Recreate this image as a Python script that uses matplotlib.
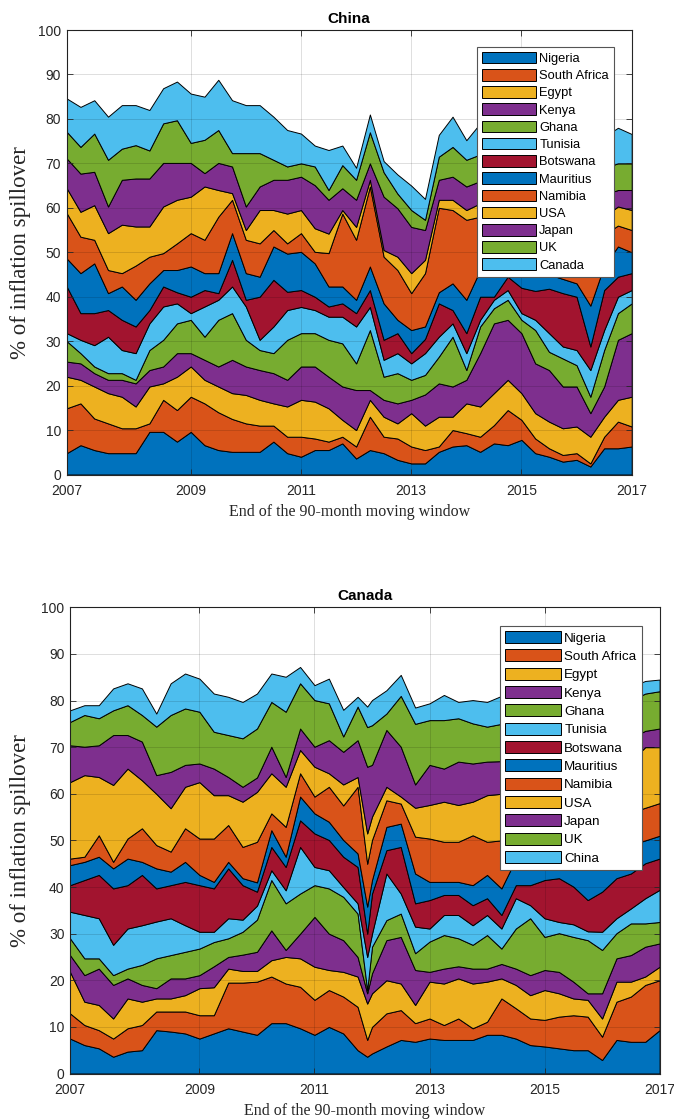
import numpy as np
import matplotlib
matplotlib.use("Agg")
import matplotlib.pyplot as plt

plt.rcParams['font.family'] = ['Liberation Sans', 'DejaVu Sans']

# ---------------- data ----------------
# months since the start of the axis (axis spans 123 months, labels every 2 years)
months_china = np.arange(0, 124, 3)
months_canada = np.array([0, 3, 6, 9, 12, 15, 18, 21, 24, 27, 30, 33, 36, 39, 42, 45, 48, 51, 54, 57, 60,
                          62, 63, 66, 69, 72, 75, 78, 81, 84, 87, 90, 93, 96, 99, 102, 105, 108, 111,
                          114, 117, 120, 123])
year_ticks = [0, 27, 51, 75, 99, 123]
year_labels = ['2007', '2009', '2011', '2013', '2015', '2017']

labels_china = ['Nigeria', 'South Africa', 'Egypt', 'Kenya', 'Ghana', 'Tunisia', 'Botswana',
                'Mauritius', 'Namibia', 'USA', 'Japan', 'UK', 'Canada']
labels_canada = ['Nigeria', 'South Africa', 'Egypt', 'Kenya', 'Ghana', 'Tunisia', 'Botswana',
                 'Mauritius', 'Namibia', 'USA', 'Japan', 'UK', 'China']

# ----- China panel (% contributions) -----
ch_nigeria = [4.8, 6.6, 5.5, 4.8, 4.8, 4.8, 9.6, 9.6, 7.4, 9.6, 6.6, 5.5, 5.1, 5.1, 5.1, 7.4, 4.8, 4.0, 5.5, 5.5,
              7.0, 3.6, 5.5, 4.8, 3.3, 2.5, 2.5, 5.1, 6.3, 6.6, 5.1, 7.0, 6.6, 7.8, 4.8, 4.0, 2.9, 3.3, 1.8, 5.9,
              5.9, 6.3]
ch_safrica = [10.1, 9.4, 7.1, 6.7, 5.6, 5.6, 1.9, 7.2, 7.1, 7.9, 9.4, 8.5, 7.4, 6.4, 5.9, 3.6, 3.7, 4.5, 2.6, 1.9,
              1.5, 2.7, 7.5, 3.7, 4.8, 3.8, 3.0, 1.2, 3.7, 2.7, 3.4, 4.1, 7.9, 4.5, 3.3, 1.9, 1.5, 1.5, 0.7, 2.6,
              6.0, 4.5]
ch_egypt = [7.1, 5.3, 7.2, 6.8, 7.1, 4.9, 8.3, 3.7, 7.5, 6.8, 5.3, 5.8, 5.8, 6.4, 5.8, 5.0, 6.8, 8.3, 8.3, 7.5,
            3.8, 3.7, 3.8, 4.5, 3.4, 7.5, 5.5, 6.7, 3.0, 6.7, 6.8, 7.2, 6.8, 6.0, 5.7, 6.0, 6.0, 6.0, 6.0, 4.5,
            4.9, 6.7]
ch_kenya = [3.4, 3.7, 3.0, 3.0, 3.8, 5.2, 3.7, 3.8, 5.3, 3.0, 4.5, 4.5, 7.5, 6.4, 6.7, 6.8, 6.0, 7.5, 7.9, 7.1,
            7.5, 9.0, 2.2, 3.8, 4.5, 3.0, 7.0, 7.5, 6.8, 5.3, 12.0, 15.7, 13.5, 13.5, 11.2, 11.6, 9.4, 9.0, 5.3,
            6.8, 13.5, 14.3]
ch_ghana = [4.6, 2.3, 1.5, 1.5, 1.5, 0.8, 4.5, 6.0, 6.7, 7.5, 5.2, 10.5, 10.5, 6.0, 4.5, 4.5, 9.0, 7.5, 7.5, 8.3,
            9.7, 6.0, 13.5, 5.2, 6.8, 4.5, 4.4, 6.0, 11.2, 2.2, 6.0, 3.4, 4.5, 3.0, 7.5, 4.1, 6.3, 4.8, 3.7, 8.2,
            6.0, 6.7]
ch_tunisia = [1.8, 3.0, 4.8, 8.2, 5.2, 6.0, 6.0, 7.5, 4.5, 1.5, 6.8, 4.5, 6.0, 7.5, 2.3, 6.0, 6.7, 5.9, 5.2, 5.2,
              6.0, 8.3, 5.2, 3.8, 4.5, 3.7, 4.9, 4.5, 3.0, 3.8, 1.5, 1.9, 2.2, 1.5, 2.3, 4.2, 2.7, 3.4, 6.0, 4.5,
              3.7, 3.0]
ch_botswana = [10.5, 6.0, 7.2, 6.0, 6.8, 6.0, 3.0, 4.5, 2.5, 3.7, 3.7, 1.5, 6.0, 1.5, 9.7, 10.5, 4.1, 3.8, 3.0,
               2.3, 3.0, 3.0, 3.8, 4.5, 4.5, 2.3, 3.2, 7.5, 3.0, 4.5, 5.2, 0.7, 3.0, 5.7, 6.5, 10.0, 12.0, 12.0,
               5.3, 9.0, 4.5, 3.8]
ch_mauritius = [6.3, 9.0, 11.2, 3.8, 7.5, 6.0, 6.0, 3.7, 5.0, 6.8, 3.8, 4.5, 6.0, 6.0, 4.5, 7.5, 8.6, 8.6, 7.5,
                4.5, 3.8, 3.0, 5.3, 8.2, 3.0, 5.2, 2.8, 2.5, 6.0, 7.5, 6.0, 6.0, 3.5, 4.0, 3.7, 3.2, 3.2, 3.0,
                9.2, 5.5, 6.8, 4.7]
ch_namibia = [10.2, 8.2, 5.3, 5.2, 3.0, 7.7, 6.0, 3.8, 6.0, 7.5, 7.5, 12.7, 7.5, 7.5, 7.5, 3.7, 2.3, 4.2, 2.6,
              7.5, 16.4, 13.5, 18.0, 10.5, 11.2, 8.3, 12.0, 19.0, 16.5, 18.0, 12.0, 11.0, 9.0, 10.0, 10.0, 10.0,
              10.0, 10.0, 10.0, 7.0, 4.7, 5.0]
ch_usa = [5.6, 5.6, 7.8, 8.3, 10.9, 8.8, 6.8, 10.5, 9.8, 8.2, 12.0, 6.0, 1.5, 2.2, 7.5, 4.5, 6.7, 5.2, 5.3, 4.4,
          0.8, 2.9, 1.5, 1.5, 3.0, 4.5, 3.0, 1.8, 2.3, 2.2, 3.0, 3.0, 3.0, 4.0, 4.0, 4.0, 4.0, 4.0, 5.0, 4.0,
          4.3, 4.5]
ch_japan = [6.7, 8.6, 7.5, 6.0, 10.1, 10.8, 10.8, 9.8, 8.3, 7.6, 3.0, 6.1, 6.0, 5.3, 5.3, 6.8, 7.6, 7.5, 9.7,
            7.6, 4.9, 6.1, 3.7, 12.0, 10.9, 10.4, 6.7, 4.5, 5.2, 5.3, 5.0, 6.0, 6.0, 5.0, 6.0, 5.0, 6.0, 6.0,
            7.0, 5.0, 3.7, 4.5]
ch_uk = [6.0, 6.0, 8.6, 10.5, 7.0, 7.5, 6.3, 8.9, 9.6, 4.5, 7.5, 7.4, 3.0, 12.0, 7.5, 4.5, 3.0, 3.0, 4.2, 2.2,
         5.2, 4.5, 7.0, 5.5, 3.3, 3.8, 2.3, 5.2, 6.7, 6.0, 6.0, 6.0, 6.0, 6.0, 6.0, 6.0, 6.0, 6.0, 6.0, 6.0,
         6.0, 6.0]
ch_canada = [7.5, 9.0, 7.5, 9.7, 9.8, 9.0, 9.1, 7.9, 8.7, 11.1, 9.7, 11.3, 11.9, 10.8, 10.8, 9.7, 8.2, 6.7, 4.7,
             9.0, 4.4, 2.7, 4.0, 2.5, 4.3, 5.5, 4.7, 4.9, 6.8, 4.4, 7.0, 7.0, 6.0, 6.0, 5.0, 6.0, 5.0, 5.0, 6.0,
             7.0, 8.0, 6.6]

# ----- Canada panel (% contributions) -----
ca_nigeria = [7.5, 6.1, 5.4, 3.6, 4.7, 5.0, 9.3, 9.0, 8.6, 7.5, 8.6, 9.7, 9.0, 8.3, 10.8, 10.8, 9.7, 8.3, 10.0,
              8.6, 5.0, 3.6, 4.3, 5.8, 7.2, 6.8, 7.5, 7.2, 7.2, 7.2, 8.3, 8.3, 7.5, 6.1, 5.8, 5.4, 5.0, 5.0, 2.9,
              7.2, 6.8, 6.8, 9.3]
ca_safrica = [5.4, 4.3, 3.9, 3.9, 5.0, 5.4, 4.0, 4.3, 4.7, 5.0, 3.9, 9.8, 10.5, 11.4, 10.0, 8.5, 8.9, 7.5, 7.9,
              7.9, 9.3, 3.6, 5.7, 7.1, 6.4, 4.0, 4.3, 3.2, 4.6, 2.5, 2.8, 7.8, 6.5, 5.7, 5.7, 6.8, 7.5, 7.2, 5.0,
              8.2, 9.7, 12.2, 10.7]
ca_egypt = [8.9, 5.0, 5.4, 4.3, 6.4, 5.0, 2.8, 2.8, 3.5, 5.8, 6.0, 3.0, 2.5, 2.3, 3.5, 5.7, 6.1, 7.1, 4.3, 5.3,
            6.5, 7.8, 7.2, 7.1, 5.7, 3.9, 7.9, 8.9, 8.6, 9.6, 8.6, 4.3, 5.0, 5.0, 6.4, 5.0, 3.6, 3.6, 3.9, 4.3,
            3.2, 1.8, 2.9]
ca_kenya = [3.6, 5.7, 7.8, 7.2, 4.3, 3.6, 2.2, 4.3, 3.6, 2.8, 4.5, 2.5, 3.5, 4.1, 6.4, 1.5, 5.3, 10.7, 7.8, 6.8,
            4.2, 2.2, 4.3, 8.6, 10.0, 7.5, 2.1, 3.2, 2.6, 3.2, 2.8, 3.1, 3.5, 4.3, 4.3, 4.6, 3.6, 1.4, 5.4, 5.0,
            5.7, 6.4, 5.0]
ca_ghana = [3.6, 3.6, 2.2, 2.1, 2.1, 4.3, 6.4, 5.0, 5.7, 5.7, 5.2, 4.0, 4.9, 6.9, 10.8, 10.0, 8.6, 6.8, 9.7, 9.3,
            9.3, 0.7, 5.7, 4.3, 5.0, 3.6, 6.5, 7.2, 6.0, 5.1, 7.2, 3.3, 8.6, 12.2, 7.1, 8.3, 9.6, 11.4, 9.3, 5.4,
            6.8, 5.0, 4.6]
ca_tunisia = [5.7, 9.3, 8.6, 6.5, 8.6, 8.5, 7.9, 7.9, 5.7, 3.6, 2.2, 4.3, 2.6, 3.0, 2.1, 2.8, 10.0, 3.9, 3.9,
              2.1, 2.2, 7.1, 2.8, 10.0, 4.3, 5.7, 2.8, 4.3, 5.0, 4.2, 4.3, 4.3, 6.5, 2.8, 4.0, 2.4, 2.7, 1.9, 3.9,
              3.2, 3.2, 5.4, 6.9]
ca_botswana = [5.7, 7.5, 9.3, 12.1, 9.3, 10.8, 7.1, 7.1, 9.3, 10.0, 9.3, 10.7, 7.4, 3.0, 5.0, 5.0, 5.7, 7.2, 6.5,
               6.5, 7.8, 5.0, 8.6, 5.0, 10.0, 5.0, 6.1, 4.3, 4.3, 4.3, 3.6, 2.9, 2.8, 4.3, 8.2, 9.4, 8.1, 6.7,
               8.6, 8.6, 7.5, 7.5, 6.7]
ca_mauritius = [4.3, 3.9, 3.9, 4.3, 5.7, 2.8, 4.3, 2.9, 4.3, 2.2, 1.4, 1.4, 1.5, 2.0, 3.6, 2.2, 5.1, 4.3, 3.9,
                3.6, 2.9, 5.8, 2.9, 5.0, 5.0, 6.4, 3.9, 2.8, 2.8, 4.3, 5.0, 5.7, 5.6, 6.6, 5.5, 5.1, 5.9, 7.8, 7.0,
                6.1, 6.1, 4.9, 4.9]
ca_namibia = [1.4, 1.1, 4.6, 1.4, 4.3, 7.2, 5.0, 4.3, 7.2, 7.8, 9.3, 7.9, 6.7, 8.7, 3.6, 6.4, 5.0, 3.6, 7.5, 7.4,
              14.3, 9.2, 8.6, 5.7, 4.3, 7.9, 9.3, 8.6, 8.6, 10.7, 7.1, 10.3, 6.0, 6.0, 7.0, 7.0, 7.0, 7.0, 7.0,
              7.0, 7.0, 7.0, 7.0]
ca_usa = [16.4, 17.5, 12.5, 16.5, 15.0, 10.3, 11.0, 9.3, 8.9, 12.1, 9.3, 6.4, 9.7, 10.7, 8.6, 8.6, 5.0, 6.4, 2.9,
          4.5, 2.1, 6.5, 5.0, 2.9, 1.5, 6.2, 7.2, 8.6, 7.9, 7.2, 10.0, 10.0, 9.0, 9.0, 8.0, 8.0, 9.0, 9.0, 9.0,
          9.0, 11.0, 13.0, 12.0]
ca_japan = [7.9, 6.1, 6.8, 10.7, 7.2, 8.3, 4.0, 7.8, 4.7, 4.0, 5.7, 3.9, 3.2, 3.1, 5.7, 2.1, 4.6, 4.3, 7.1, 7.0,
            7.9, 14.3, 11.1, 12.2, 10.7, 5.0, 8.6, 7.1, 9.3, 8.2, 7.2, 7.0, 6.0, 6.0, 6.0, 6.0, 6.0, 6.0, 6.0,
            6.0, 5.0, 3.5, 4.0]
ca_uk = [5.0, 6.8, 5.8, 5.3, 6.4, 5.7, 10.4, 12.2, 12.1, 11.1, 7.9, 9.0, 10.4, 10.5, 9.6, 14.0, 9.7, 10.0, 7.9,
         3.3, 7.2, 8.5, 8.5, 3.5, 10.9, 13.0, 9.6, 10.4, 9.3, 8.6, 7.5, 8.0, 8.0, 8.0, 8.0, 8.0, 8.0, 8.0, 8.0,
         8.0, 8.0, 8.0, 8.0]
ca_china = [2.5, 2.1, 2.8, 4.7, 4.7, 5.7, 2.8, 6.8, 7.5, 7.1, 8.2, 8.2, 7.8, 7.5, 6.1, 7.5, 3.5, 3.2, 5.3, 5.7,
            2.1, 4.4, 5.4, 5.0, 4.5, 3.5, 3.6, 5.4, 3.5, 5.0, 5.3, 6.0, 6.0, 6.0, 6.0, 6.0, 6.0, 6.0, 6.0, 5.0,
            3.0, 2.7, 2.5]

series_china = [ch_nigeria, ch_safrica, ch_egypt, ch_kenya, ch_ghana, ch_tunisia, ch_botswana,
                ch_mauritius, ch_namibia, ch_usa, ch_japan, ch_uk, ch_canada]
series_canada = [ca_nigeria, ca_safrica, ca_egypt, ca_kenya, ca_ghana, ca_tunisia, ca_botswana,
                 ca_mauritius, ca_namibia, ca_usa, ca_japan, ca_uk, ca_china]

colors = ['#0072BD', '#D95319', '#EDB120', '#7E2F8E', '#77AC30', '#4DBEEE', '#A2142F',
          '#0072BD', '#D95319', '#EDB120', '#7E2F8E', '#77AC30', '#4DBEEE']

# ---------------- figure ----------------
W, H = 674, 1119
fig = plt.figure(figsize=(W / 100, H / 100), dpi=100)

AXC = '#262626'


def panel(rect_px, x, series, labels, title, leg_corner_px, leg_font, leg_spacing):
    l, t, r, b = rect_px
    ax = fig.add_axes([l / W, 1 - b / H, (r - l) / W, (b - t) / H])
    ax.stackplot(x, *series, labels=labels, colors=colors, edgecolor='black', linewidth=0.7)
    ax.set_xlim(0, 123)
    ax.set_ylim(0, 100)
    ax.set_xticks(year_ticks)
    ax.set_xticklabels(year_labels)
    ax.set_yticks(np.arange(0, 101, 10))
    ax.set_axisbelow(False)
    ax.grid(True, color='black', alpha=0.15, linewidth=0.6)
    ax.tick_params(direction='in', length=4, width=0.6, colors=AXC, labelsize=10,
                   top=True, right=True, labelcolor=AXC, pad=4)
    ax.tick_params(axis='x', pad=7)
    for s in ax.spines.values():
        s.set_color(AXC)
        s.set_linewidth(0.8)
    ax.set_title(title, fontsize=11, fontweight='bold', color='black', pad=5)
    ax.set_xlabel('End of the 90-month moving window', family=['Liberation Serif', 'DejaVu Serif'],
                  fontsize=11.5, color=AXC, labelpad=4)
    ax.set_ylabel('% of inflation spillover', family=['Liberation Serif', 'DejaVu Serif'],
                  fontsize=16.5, color=AXC)
    ax.yaxis.set_label_coords((31 - l) / (r - l), 0.5)
    leg = ax.legend(loc='upper right', bbox_to_anchor=(leg_corner_px[0] / W, 1 - leg_corner_px[1] / H),
                    bbox_transform=fig.transFigure, borderaxespad=0, fontsize=leg_font,
                    handlelength=4.2, handleheight=1.0, handletextpad=0.25, labelspacing=leg_spacing,
                    borderpad=0.4, fancybox=False, framealpha=1, edgecolor='#555555')
    leg.get_frame().set_linewidth(0.8)
    return ax


panel((66.7, 30, 631.7, 474.5), months_china, series_china, labels_china, 'China', (614, 46.7),
      9.3, 0.31)
panel((70, 607.3, 659.6, 1073.5), months_canada, series_canada, labels_canada, 'Canada', (641.7, 625.7),
      9.6, 0.36)

fig.savefig('out.png', dpi=100)
